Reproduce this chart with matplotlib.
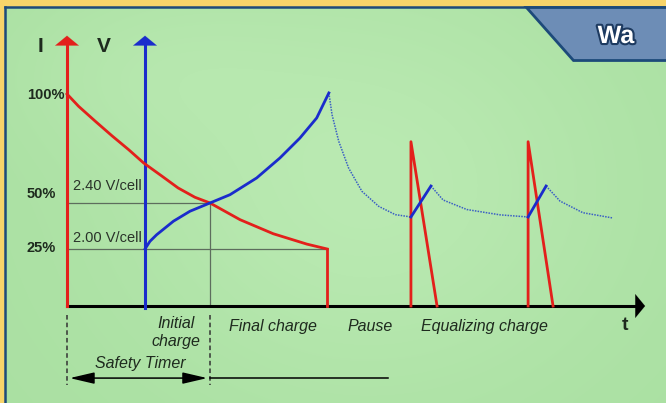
import numpy as np
import matplotlib
matplotlib.use("Agg")
import matplotlib.pyplot as plt
from matplotlib.patches import Polygon, Rectangle
import matplotlib.patheffects as pe

plt.rcParams['font.family'] = ['Liberation Sans', 'DejaVu Sans']

# ---------------------------------------------------------------------------
# DATA (time in arbitrary units, level in % of full scale)
# ---------------------------------------------------------------------------
# charging current, initial + final charge
current_t = [0, 0.40, 0.98, 1.55, 2.13, 2.64, 3.28, 3.83, 4.41, 4.93, 5.97, 7.11, 8.27, 8.97]
current_p = [100, 94.2, 87.1, 80.3, 73.7, 67.5, 61.2, 55.7, 51.3, 48.6, 40.7, 34.1, 29.2, 26.9]

# charging voltage, initial + final charge
voltage_t = [2.69, 2.86, 3.09, 3.67, 4.24, 4.93, 5.62, 6.54, 7.34, 8.03, 8.61, 9.03]
voltage_p = [26.9, 30.5, 33.6, 40.0, 44.7, 48.6, 52.5, 60.4, 69.8, 79.2, 88.7, 100.5]

# voltage during pauses (dotted decay)
pause1_t = [9.03, 9.14, 9.37, 9.71, 10.17, 10.75, 11.32, 11.86]
pause1_p = [100.5, 90.2, 77.7, 65.1, 54.1, 47.0, 43.1, 42.0]
pause2_t = [12.55, 12.97, 13.79, 14.93, 15.9]
pause2_p = [56.6, 50, 45.5, 43, 42.0]
pause3_t = [16.52, 17.0, 17.79, 18.83]
pause3_p = [56.6, 49.5, 44, 41.5]

# equalizing pulses: start time, voltage peak time, current end time
pulse_start = [11.86, 15.9]
pulse_vpeak = [12.55, 16.52]
pulse_iend = [12.76, 16.76]
pulse_ipeak = 77.5
pulse_vbase = 42.0
pulse_vtop = 56.6

# voltage reference levels (2.40 V/cell, 2.00 V/cell) on the plot scale
v_levels = [48.6, 26.9]
cell_labels = ["2.40 V/cell", "2.00 V/cell"]
cell_label_y = [56.6, 32.1]

end_initial = 4.93
end_final = 8.97
v_axis_t = 2.69
t_max = 19.93
axis_top = 128.8

level_labels = ["100%", "50%", "25%"]
level_label_y = [99.5, 52.8, 27.4]

phase_labels = ["Final charge", "Pause", "Equalizing charge"]
phase_centers = [7.09, 10.45, 14.38]

RED = "#e3201b"
BLUE = "#1a2ccc"
DOT_BLUE = "#3b5fc4"
GRID = "#5d6d5d"
TXT = "#1e2a1e"

W, H = 666, 403
fig = plt.figure(figsize=(W / 100, H / 100), dpi=100)

# ---- background / frame (pixel coordinates) ----
bg = fig.add_axes([0, 0, 1, 1])
bg.set_xlim(0, W)
bg.set_ylim(H, 0)
bg.axis("off")
bg.add_patch(Rectangle((0, 0), W, H, color="#f7d46a", zorder=0))

xx, yy = np.meshgrid(np.linspace(0, 1, 200), np.linspace(0, 1, 120))
light = np.array([196, 240, 188]) / 255
dark = np.array([170, 224, 162]) / 255
mix = 0.6 * np.exp(-((xx - 0.55) ** 2 / 0.15 + (yy - 0.45) ** 2 / 0.3)) \
    + 0.25 * np.exp(-((xx - 0.2) ** 2 / 0.05 + (yy - 0.15) ** 2 / 0.05))
mix = np.clip(mix, 0, 1)[..., None]
img = dark * (1 - mix) + light * mix
bg.imshow(img, extent=[6, W, H, 8], aspect="auto", zorder=1, interpolation="bicubic")
bg.plot([5, W], [7, 7], color="#1d4a7a", lw=1.8, zorder=2)
bg.plot([5, 5], [7, H], color="#1d4a7a", lw=1.8, zorder=2)

tab = Polygon([(526, 7), (W + 2, 7), (W + 2, 60), (573, 60)], closed=True,
              facecolor="#6d8db6", edgecolor="#1d4a7a", lw=2, zorder=3)
bg.add_patch(tab)
bg.text(616, 36, "Wa", color="white", fontsize=18, fontweight="bold",
        ha="center", va="center", zorder=4,
        path_effects=[pe.withStroke(linewidth=3, foreground="#1d3a60")])

# ---- chart (data coordinates) ----
ax = fig.add_axes([0, 0, 1, 1])
ax.patch.set_alpha(0)
ax.axis("off")
ax.set_xlim(-2.310, 20.655)
ax.set_ylim(-45.75, 144.34)

# reference lines
ax.plot([0, end_initial], [v_levels[0]] * 2, color=GRID, lw=0.9, zorder=2)
ax.plot([0, end_final], [v_levels[1]] * 2, color=GRID, lw=0.9, zorder=2)
ax.plot([end_initial, end_initial], [0, v_levels[0]], color=GRID, lw=0.9, zorder=2)

# axes with arrows
arrow_style = "-|>,head_length=0.7,head_width=0.85"
ax.plot([0, t_max - 0.3], [0, 0], color="black", lw=2.2, zorder=3)
ax.annotate("", xy=(t_max + 0.1, 0), xytext=(t_max - 0.5, 0),
            arrowprops=dict(arrowstyle=arrow_style, color="black", lw=0.1), zorder=3)
ax.plot([0, 0], [0, axis_top - 3], color=RED, lw=2.2, zorder=4)
ax.annotate("", xy=(0, axis_top), xytext=(0, axis_top - 5),
            arrowprops=dict(arrowstyle=arrow_style, color=RED, lw=0.1), zorder=4)
ax.plot([v_axis_t, v_axis_t], [-1, axis_top - 3], color=BLUE, lw=2.2, zorder=4)
ax.annotate("", xy=(v_axis_t, axis_top), xytext=(v_axis_t, axis_top - 5),
            arrowprops=dict(arrowstyle=arrow_style, color=BLUE, lw=0.1), zorder=4)

# current and voltage curves
ax.plot(current_t, current_p, color=RED, lw=2, zorder=5, solid_joinstyle="round")
ax.plot([current_t[-1], current_t[-1]], [current_p[-1], 0], color=RED, lw=2, zorder=5)
ax.plot(voltage_t, voltage_p, color=BLUE, lw=2, zorder=5, solid_joinstyle="round")

for tt, pp in [(pause1_t, pause1_p), (pause2_t, pause2_p), (pause3_t, pause3_p)]:
    ax.plot(tt, pp, color=DOT_BLUE, lw=1.1, ls=(0, (1, 0.8)), zorder=4)

for s, vp, ie in zip(pulse_start, pulse_vpeak, pulse_iend):
    ax.plot([s, s, ie], [0, pulse_ipeak, 0], color=RED, lw=2, zorder=5)
    ax.plot([s, vp], [pulse_vbase, pulse_vtop], color=BLUE, lw=2, zorder=6)

# labels
ax.text(-0.93, 122.2, "I", fontsize=15, fontweight="bold", color=TXT, ha="center", va="center")
ax.text(1.28, 122.2, "V", fontsize=15, fontweight="bold", color=TXT, ha="center", va="center")
for lab, y in zip(level_labels, level_label_y):
    ax.text(-1.38, y, lab, fontsize=10.5, fontweight="bold", color=TXT, ha="left", va="center")
for lab, y in zip(cell_labels, cell_label_y):
    ax.text(0.21, y, lab, fontsize=10.5, color="#2a332a", ha="left", va="center")

ax.text(3.76, -12.5, "Initial\ncharge", fontsize=11.5, style="italic", color=TXT,
        ha="center", va="center", linespacing=1.2)
for lab, c in zip(phase_labels, phase_centers):
    ax.text(c, -9.9, lab, fontsize=11.5, style="italic", color=TXT, ha="center", va="center")
ax.text(19.24, -9.4, "t", fontsize=14, fontweight="bold", color=TXT, ha="center", va="center")

# safety timer
for xv in [0, end_initial]:
    ax.plot([xv, xv], [-4.2, -37.3], color="#333333", lw=1.1, ls=(0, (3, 2)), zorder=3)
ax.annotate("", xy=(0, -34), xytext=(end_initial, -34),
            arrowprops=dict(arrowstyle="<|-|>,head_length=1.5,head_width=0.35",
                            color="black", lw=1.1), zorder=3)
ax.plot([end_initial, 11.07], [-34, -34], color="black", lw=1.1, zorder=3)
ax.text(2.52, -26.9, "Safety Timer", fontsize=11.5, style="italic", color=TXT,
        ha="center", va="center")

fig.savefig("out.png", dpi=100)
